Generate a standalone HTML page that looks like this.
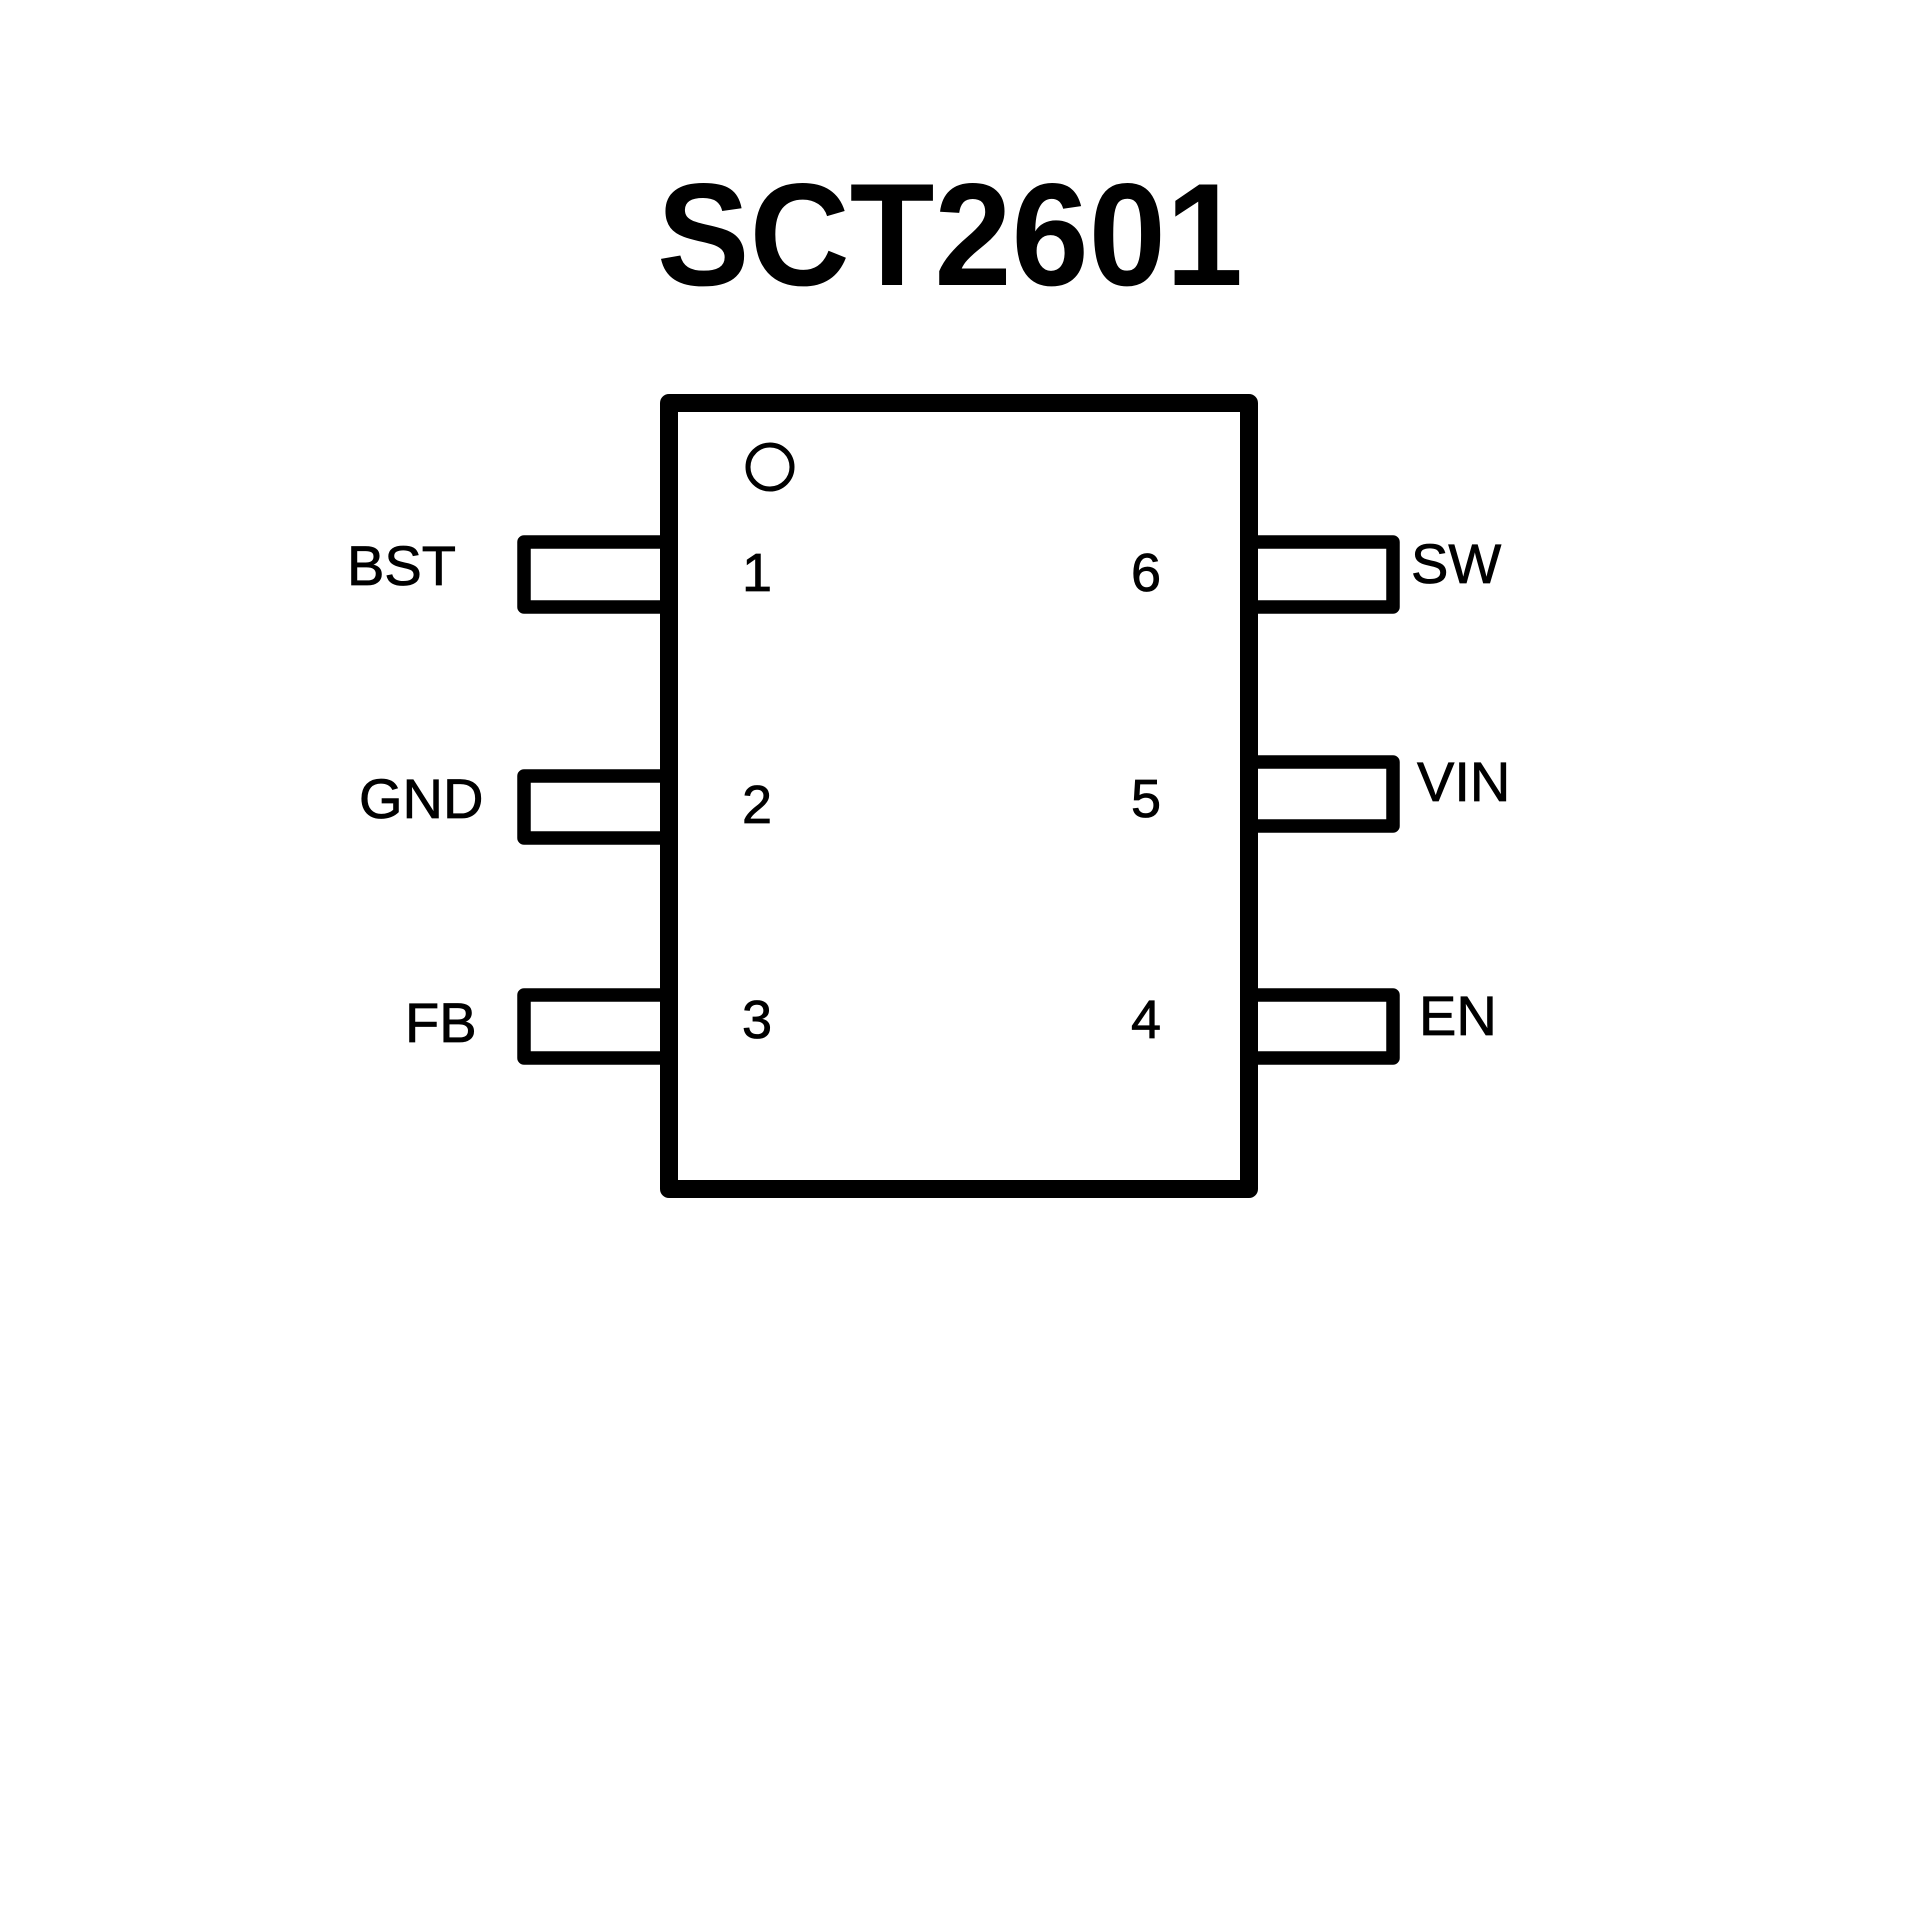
<!DOCTYPE html>
<html><head><meta charset="utf-8"><style>
html,body{margin:0;padding:0;background:#fff;}
svg{display:block;}
text{font-family:"Liberation Sans",sans-serif;fill:#000;}
</style></head><body>
<svg width="1920" height="1920" viewBox="0 0 1920 1920" xmlns="http://www.w3.org/2000/svg">
<rect width="1920" height="1920" fill="#fff"/>
<text x="950" y="285" font-size="146" font-weight="bold" text-anchor="middle" textLength="586" lengthAdjust="spacingAndGlyphs">SCT2601</text>
<g fill="none" stroke="#000" stroke-linejoin="round">
<rect x="669" y="403" width="580" height="786" stroke-width="18"/>
<g stroke-width="13.5">
<polyline points="662,542 524,542 524,607 662,607"/>
<polyline points="662,776 524,776 524,838 662,838"/>
<polyline points="662,995 524,995 524,1058 662,1058"/>
<polyline points="1256,542 1393,542 1393,607 1256,607"/>
<polyline points="1256,762 1393,762 1393,826 1256,826"/>
<polyline points="1256,995 1393,995 1393,1058 1256,1058"/>
</g>
<circle cx="770" cy="467" r="22" stroke-width="5"/>
</g>
<g font-size="56" stroke="#000" stroke-width="0.8">
<text x="347" y="585">BST</text>
<text x="359" y="818">GND</text>
<text x="405" y="1042">FB</text>
<text x="1411" y="583">SW</text>
<text x="1417" y="801">VIN</text>
<text x="1419" y="1035">EN</text>
</g>
<g font-size="54" text-anchor="middle" stroke="#000" stroke-width="0.8">
<text x="757" y="591">1</text>
<text x="757" y="823">2</text>
<text x="757" y="1038">3</text>
<text x="1146" y="591">6</text>
<text x="1146" y="817">5</text>
<text x="1146" y="1038">4</text>
</g>
</svg>
</body></html>
